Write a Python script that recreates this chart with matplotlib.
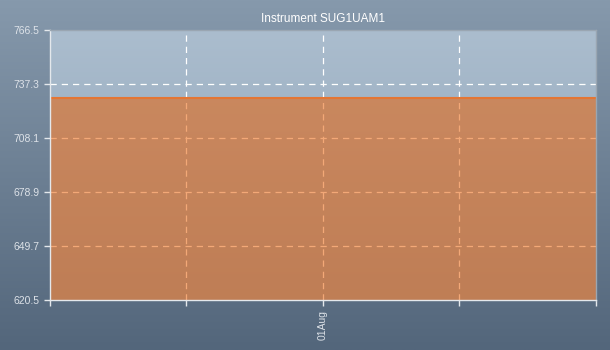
import numpy as np
import matplotlib
matplotlib.use("Agg")
import matplotlib.pyplot as plt
from matplotlib.colors import LinearSegmentedColormap

plt.rcParams["font.family"] = ["Liberation Sans", "DejaVu Sans"]

title = "Instrument SUG1UAM1"
x_vals = [0, 4]
y_vals = [730.0, 730.0]
y_ticks = [620.5, 649.7, 678.9, 708.1, 737.3, 766.5]
x_ticks = [0, 1, 2, 3, 4]
x_labels = ["", "", "01Aug", "", ""]

fig = plt.figure(figsize=(6.1, 3.5), dpi=100)

# figure background gradient
bg = fig.add_axes([0, 0, 1, 1], zorder=-10)
bg_cmap = LinearSegmentedColormap.from_list("bg", ["#53667b", "#8699ac"])
bg.imshow(np.linspace(0, 1, 256).reshape(-1, 1), aspect="auto", cmap=bg_cmap,
          origin="lower", extent=[0, 1, 0, 1])
bg.set_axis_off()

ax = fig.add_axes([50/610, 50/350, 545.5/610, 270/350])
ax.set_xlim(0, 4)
ax.set_ylim(620.5, 766.5)
pa_cmap = LinearSegmentedColormap.from_list("pa", ["#8ba0b4", "#abbdce"])
ax.imshow(np.linspace(0, 1, 256).reshape(-1, 1), aspect="auto", cmap=pa_cmap,
          origin="lower", extent=[0, 4, 620.5, 766.5], zorder=0)

ax.set_yticks(y_ticks)
ax.set_yticklabels([f"{v:.1f}" for v in y_ticks])
ax.set_xticks(x_ticks)
ax.set_xticklabels(x_labels, rotation=90)
ax.set_axisbelow(True)
ax.grid(True, color="white", linestyle=(0, (5, 4)), linewidth=0.9)
for gl in (ax.yaxis.get_gridlines()[0], ax.yaxis.get_gridlines()[-1],
           ax.xaxis.get_gridlines()[0], ax.xaxis.get_gridlines()[-1]):
    gl.set_visible(False)

ax.fill_between(x_vals, 620.5, y_vals, color="#ea6208", alpha=0.55,
                linewidth=0, zorder=2)
ax.plot(x_vals, y_vals, color="#e47634", linewidth=1.5, zorder=3)

for s in ["left", "bottom"]:
    ax.spines[s].set_color("#e4e8ec")
    ax.spines[s].set_linewidth(1.0)
for s in ["top", "right"]:
    ax.spines[s].set_color("#9aa6b2")
    ax.spines[s].set_linewidth(1.0)
for s in ax.spines.values():
    s.set_zorder(5)

ax.tick_params(axis="both", colors="#e4e8ec", labelcolor="#dde2e8",
               labelsize=7.5, length=4, width=1)
ax.set_title(title, color="white", fontsize=8.5, pad=6)

fig.savefig("out.png", dpi=100)
